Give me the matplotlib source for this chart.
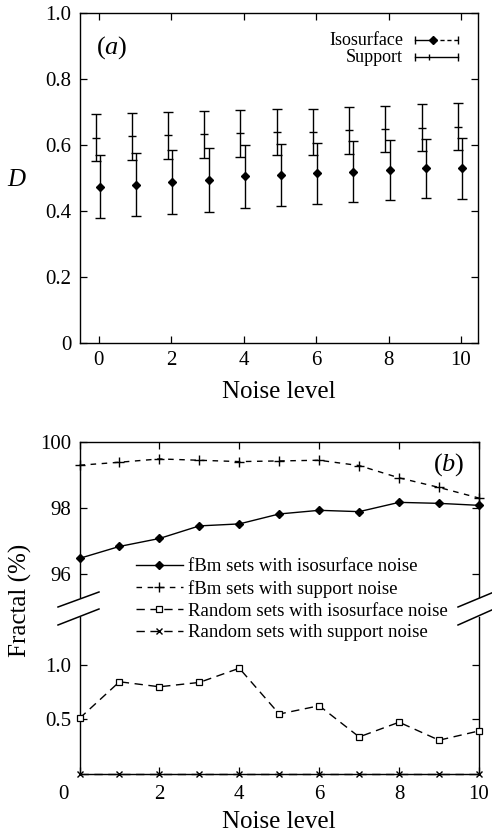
import matplotlib
matplotlib.use("Agg")
import matplotlib.pyplot as plt
from matplotlib.lines import Line2D
import numpy as np

plt.rcParams['font.family'] = ['Liberation Serif', 'DejaVu Serif']
plt.rcParams['mathtext.fontset'] = 'custom'
plt.rcParams['mathtext.rm'] = 'Liberation Serif'
plt.rcParams['mathtext.it'] = 'Liberation Serif:italic'

# ---------------- data ----------------
noise = [0, 1, 2, 3, 4, 5, 6, 7, 8, 9, 10]

# panel (a): fractal dimension D
iso_D = [0.474, 0.480, 0.489, 0.495, 0.505, 0.510, 0.514, 0.519, 0.524, 0.529, 0.529]
iso_err = [0.096, 0.096, 0.097, 0.097, 0.095, 0.094, 0.093, 0.093, 0.092, 0.090, 0.093]
sup_D = [0.622, 0.627, 0.630, 0.632, 0.635, 0.639, 0.640, 0.644, 0.649, 0.652, 0.655]
sup_err = [0.071, 0.071, 0.071, 0.071, 0.070, 0.070, 0.069, 0.070, 0.070, 0.071, 0.071]

# panel (b): percentage classified fractal
fbm_iso = [96.48, 96.84, 97.08, 97.46, 97.52, 97.82, 97.93, 97.89, 98.17, 98.14, 98.08]
fbm_sup = [99.29, 99.38, 99.48, 99.44, 99.40, 99.42, 99.44, 99.28, 98.91, 98.62, 98.30]
rnd_iso = [0.51, 0.846, 0.80, 0.84, 0.97, 0.55, 0.626, 0.34, 0.475, 0.31, 0.395]
rnd_sup = [0, 0, 0, 0, 0, 0, 0, 0, 0, 0, 0]

labels_b = ["fBm sets with isosurface noise", "fBm sets with support noise",
            "Random sets with isosurface noise", "Random sets with support noise"]

TICK_FS = 15
LAB_FS = 18
LEG_FS = 13.5

W, H = 492, 838
fig = plt.figure(figsize=(W / 100, H / 100), dpi=100)

def fx(px):
    return px / W

def fy(py):
    return 1 - py / H

def style_ticks(ax):
    ax.tick_params(direction='in', length=5, width=0.9, labelsize=TICK_FS,
                   top=True, right=True, pad=6)
    for s in ax.spines.values():
        s.set_linewidth(1.0)

# ---------------- panel (a) ----------------
axa = fig.add_axes([fx(80), fy(343), fx(478) - fx(80), fy(13) - fy(343)])
xs = np.array(noise, dtype=float)
axa.errorbar(xs - 0.09, sup_D, yerr=sup_err, fmt='_', color='black', ms=6, mew=1.0,
             ecolor='black', elinewidth=1.0, capsize=3.5, capthick=1.0)
axa.errorbar(xs + 0.03, iso_D, yerr=iso_err, fmt='D', color='black', ms=4,
             ecolor='black', elinewidth=1.0, capsize=3.5, capthick=1.0)
axa.set_xlim(-0.52, 10.47)
axa.set_ylim(0, 1.0)
axa.set_xticks([0, 2, 4, 6, 8, 10])
axa.set_yticks([0, 0.2, 0.4, 0.6, 0.8, 1.0])
axa.set_yticklabels(['0', '0.2', '0.4', '0.6', '0.8', '1.0'])
style_ticks(axa)
axa.set_xlabel('Noise level', fontsize=LAB_FS, labelpad=8)
fig.text(fx(17), fy(180), r'$D$', fontsize=LAB_FS, ha='center', va='center')
axa.text(0.04, 0.895, r'$(a)$', transform=axa.transAxes, fontsize=19,
         ha='left', va='center')

# legend (a) drawn as handles in axes coordinates
def ax_pt(ax, px, py):
    inv = ax.transAxes.inverted()
    return inv.transform((px, H - py))

for (ypx, lab) in [(40, 'Isosurface'), (57, 'Support')]:
    x0, y0 = ax_pt(axa, 415, ypx)
    x1, _ = ax_pt(axa, 458, ypx)
    xm, _ = ax_pt(axa, 433, ypx)
    xt, _ = ax_pt(axa, 403, ypx)
    axa.text(xt, y0, lab, transform=axa.transAxes, fontsize=13,
             ha='right', va='center')
    axa.plot([x0, x1], [y0, y0], transform=axa.transAxes, ls='none',
             marker='|', ms=6, mew=1.0, color='black')
    if lab == 'Isosurface':
        axa.plot([x0, xm], [y0, y0], transform=axa.transAxes, color='black', lw=1.0)
        axa.plot([xm, x1], [y0, y0], transform=axa.transAxes, color='black', lw=1.0,
                 ls=(0, (3, 2)))
        axa.plot([xm], [y0], transform=axa.transAxes, marker='D', ms=4, color='black')
    else:
        axa.plot([x0, x1], [y0, y0], transform=axa.transAxes, color='black', lw=1.0)
        axa.plot([xm - 0.01], [y0], transform=axa.transAxes, marker='|', ms=4,
                 mew=1.0, color='black')

# ---------------- panel (b) ----------------
left_b, right_b = 79.5, 479
axu = fig.add_axes([fx(left_b), fy(597.5), fx(right_b) - fx(left_b), fy(441.7) - fy(597.5)])
axl = fig.add_axes([fx(left_b), fy(774), fx(right_b) - fx(left_b), fy(617) - fy(774)])

h1, = axu.plot(noise, fbm_iso, color='black', lw=1.0, marker='D', ms=4,
               clip_on=False, zorder=5)
h2, = axu.plot(noise, fbm_sup, color='black', lw=1.0, ls=(0, (4, 4)), marker='+',
               ms=7, mew=1.0, clip_on=False, zorder=5)
h3, = axl.plot(noise, rnd_iso, color='black', lw=1.0, ls=(0, (6, 4)), marker='s',
               ms=4.5, mfc='white', mew=0.9, clip_on=False, zorder=5)
h4, = axl.plot(noise, rnd_sup, color='black', lw=1.0, ls=(0, (6, 4)), marker='x',
               ms=4.5, mew=1.0, clip_on=False, zorder=5)

for ax in (axu, axl):
    ax.set_xlim(0, 10)
    ax.set_xticks([0, 2, 4, 6, 8, 10])
    style_ticks(ax)

axu.set_ylim(95.3, 100)
axu.set_yticks([96, 98, 100])
axu.spines['bottom'].set_visible(False)
axu.tick_params(bottom=False, labelbottom=False)

axl.set_ylim(0, 1.44)
axl.set_yticks([0.5, 1.0])
axl.set_yticklabels(['0.5', '1.0'])
axl.spines['top'].set_visible(False)
axl.tick_params(top=False)
axl.tick_params(axis='x', pad=8)
axl.set_xticklabels(['', '2', '4', '6', '8', '10'])
axl.annotate('0', xy=(0, 0), xycoords=('data', 'axes fraction'),
             xytext=(-11.5, -8), textcoords='offset points',
             ha='center', va='top', fontsize=TICK_FS)
axl.set_xlabel('Noise level', fontsize=LAB_FS, labelpad=5)
fig.text(fx(20), fy(600), 'Fractal (%)', fontsize=LAB_FS, rotation=90,
         ha='center', va='center')
axu.text(0.965, 0.855, r'$(b)$', transform=axu.transAxes, fontsize=19,
         ha='right', va='center')

# axis break marks
for (xa, xb) in [(58, 99), (458, 494)]:
    for (ya, yb) in [(607, 592), (625, 609)]:
        fig.add_artist(Line2D([fx(xa), fx(xb)], [fy(ya), fy(yb)],
                              color='black', lw=1.1))

# legend (b)
fig.legend([h1, h2, h3, h4], labels_b, loc='upper left',
           bbox_to_anchor=(fx(136), fy(558)), frameon=False, fontsize=LEG_FS,
           handlelength=2.5, handletextpad=0.3, labelspacing=0.25,
           borderaxespad=0, borderpad=0)

fig.savefig('out.png', dpi=100)
